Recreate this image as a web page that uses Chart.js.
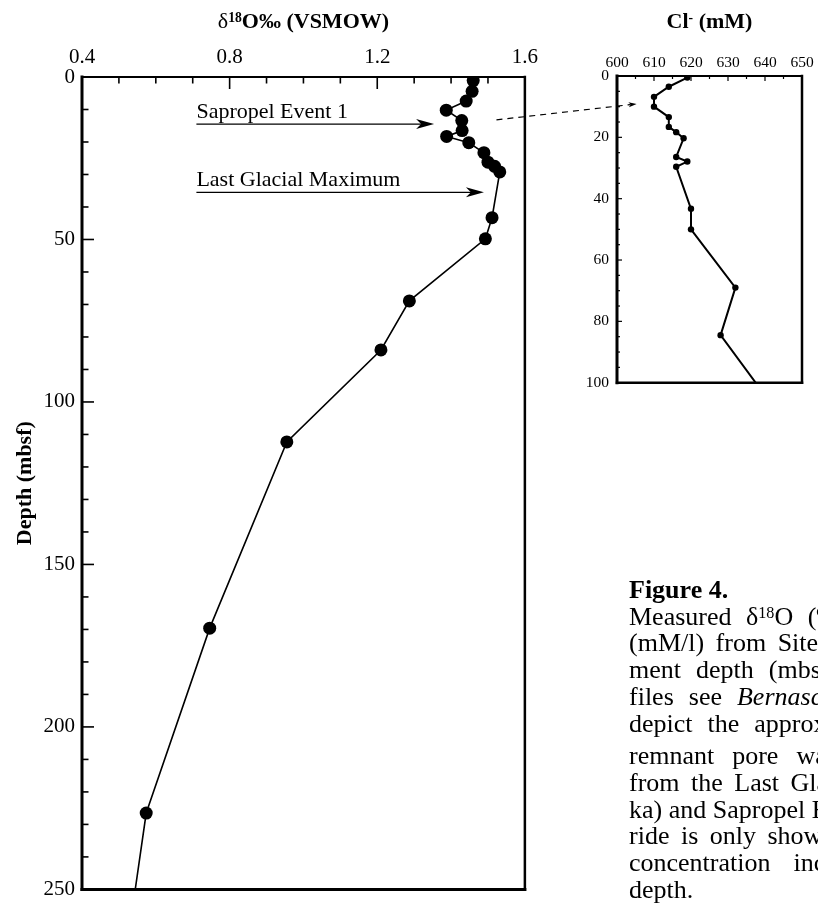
<!DOCTYPE html>
<html>
<head>
<meta charset="utf-8">
<script src="https://cdn.jsdelivr.net/npm/chart.js@4"></script>
<style>
  html, body { margin: 0; padding: 0; background: #fff; }
  body { width: 818px; height: 909px; position: relative; overflow: hidden;
         font-family: "Liberation Serif", "Times New Roman", serif; color: #000; }
  #o18Wrap { position: absolute; left: 0; top: 0; width: 545px; height: 909px; }
  #clWrap { position: absolute; left: 560px; top: 0; width: 258px; height: 400px; }
  #overlay { position: absolute; left: 0; top: 0; pointer-events: none; }
  .axTitle { position: absolute; top: 8px; font-weight: bold; font-size: 22px;
             white-space: nowrap; transform: translateX(-50%); }
  .axTitle sup { font-size: 0.62em; vertical-align: 0.42em; line-height: 0; }
  .axTitle .thin { font-weight: normal; }
  #caption { position: absolute; left: 629px; top: 577px; font-size: 26px;
             line-height: 26.7px; white-space: nowrap; }
  #caption sup { font-size: 0.62em; vertical-align: 0.45em; line-height: 0; }
  #caption .fig { font-weight: bold; }
  #caption .gap { margin-top: 6px; }
</style>
</head>
<body>
<div id="o18Wrap"><canvas id="o18Chart"></canvas></div>
<div id="clWrap"><canvas id="clChart"></canvas></div>
<canvas id="overlay" width="818" height="909"></canvas>

<div class="axTitle" id="o18Title"><span class="thin">δ</span><sup>18</sup>O‰ (VSMOW)</div>
<div class="axTitle" id="clTitle">Cl<sup>-</sup> (mM)</div>

<div id="caption">
  <div class="fig">Figure 4.</div>
  <div style="word-spacing:8px">Measured δ<sup>18</sup>O (‰ VSMOW) and chloride</div>
  <div style="word-spacing:5px">(mM/l) from Site 967 versus sedi-</div>
  <div style="word-spacing:8.5px">ment depth (mbsf). For chloride pro-</div>
  <div style="word-spacing:8.5px">files see <i>Bernasconi</i> [2002]. Arrows</div>
  <div style="word-spacing:8.5px">depict the approximate depth of the</div>
  <div class="gap" style="word-spacing:11.5px">remnant pore water signals</div>
  <div style="word-spacing:5px">from the Last Glacial Maximum (~20</div>
  <div>ka) and Sapropel Event 1 (~8 ka). Chlo-</div>
  <div style="word-spacing:5px">ride is only shown to 100 m, as the</div>
  <div style="word-spacing:16.5px">concentration increases with</div>
  <div>depth.</div>
</div>

<script>
// δ18O of pore water vs. depth (mbsf); last sample lies below the plotted range
const o18Depth = [1.1, 4.4, 7.4, 10.2, 13.4, 16.5, 18.3, 20.2, 23.3, 26.2, 27.5, 29.2,
                  43.3, 49.8, 68.9, 84.0, 112.3, 169.6, 226.5, 285];
const o18Value = [1.460, 1.457, 1.441, 1.387, 1.429, 1.430, 1.388, 1.448, 1.489, 1.500, 1.518, 1.532,
                  1.511, 1.493, 1.287, 1.210, 0.955, 0.746, 0.574, 0.500];

// chloride (mM) vs. depth; shown only to 100 m
const clDepth = [0.5, 3.5, 6.8, 10.0, 13.4, 16.6, 18.3, 20.3, 26.4, 27.9, 29.6,
                 43.3, 50.0, 69.0, 84.5, 112.3];
const clValue = [619, 614, 610, 610, 614, 614, 616, 618, 616, 619, 616,
                 620, 620, 632, 628, 645];

// labelled arrows on the δ18O profile
const eventLabels = ['Sapropel Event 1', 'Last Glacial Maximum'];
const eventDepth = [14.5, 35.5];
const eventFrom = [0.71, 0.71];
const eventTo = [1.354, 1.489];

const serif = '"Liberation Serif", "Times New Roman", serif';

// box around the plot with ticks pointing inward from the top and left edges
const frameTicks = {
  id: 'frameTicks',
  afterDraw(chart, args, o) {
    const { ctx, chartArea: a, scales: { x, y } } = chart;
    const line = (w, x1, y1, x2, y2) => {
      ctx.lineWidth = w;
      ctx.beginPath(); ctx.moveTo(x1, y1); ctx.lineTo(x2, y2); ctx.stroke();
    };
    const isMajor = (v, step) => Math.abs(v / step - Math.round(v / step)) < 1e-6;
    ctx.save();
    ctx.strokeStyle = '#000';
    ctx.lineCap = 'butt';
    const nx = Math.round((x.max - x.min) / o.xMinor);
    for (let i = 1; i < nx; i++) {
      const v = x.min + i * o.xMinor;
      const px = x.getPixelForValue(v);
      line(o.tickWidth, px, a.top, px, a.top + (isMajor(v, o.xMajor) ? o.major : o.minor));
    }
    const ny = Math.round((y.max - y.min) / o.yMinor);
    for (let i = 1; i < ny; i++) {
      const v = y.min + i * o.yMinor;
      const py = y.getPixelForValue(v);
      line(o.tickWidth, a.left, py, a.left + (isMajor(v, o.yMajor) ? o.major : o.minor), py);
    }
    ctx.lineCap = 'square';
    line(o.edges[0], a.left, a.top, a.right, a.top);
    line(o.edges[1], a.right, a.top, a.right, a.bottom);
    line(o.edges[2], a.left, a.bottom, a.right, a.bottom);
    line(o.edges[3], a.left, a.top, a.left, a.bottom);
    ctx.restore();
  }
};

function arrowHead(ctx, x, y, angle, len, half, notch) {
  ctx.save();
  ctx.translate(x, y);
  ctx.rotate(angle);
  ctx.beginPath();
  ctx.moveTo(0, 0);
  ctx.lineTo(-len, -half);
  ctx.lineTo(-len + notch, 0);
  ctx.lineTo(-len, half);
  ctx.closePath();
  ctx.fill();
  ctx.restore();
}

const eventArrows = {
  id: 'eventArrows',
  afterDatasetsDraw(chart) {
    const { ctx, scales: { x, y } } = chart;
    ctx.save();
    ctx.fillStyle = '#000';
    ctx.strokeStyle = '#000';
    ctx.font = `22px ${serif}`;
    ctx.textBaseline = 'alphabetic';
    eventLabels.forEach((label, i) => {
      const py = y.getPixelForValue(eventDepth[i]);
      const x0 = x.getPixelForValue(eventFrom[i]);
      const x1 = x.getPixelForValue(eventTo[i]);
      ctx.fillText(label, x0, py - 6);
      ctx.lineWidth = 1.3;
      ctx.beginPath(); ctx.moveTo(x0, py); ctx.lineTo(x1 - 10, py); ctx.stroke();
      arrowHead(ctx, x1, py, 0, 18, 5, 5);
    });
    ctx.restore();
  }
};

function axisFont(size) {
  return { family: serif, size: size };
}

const o18Chart = new Chart(document.getElementById('o18Chart'), {
  type: 'line',
  data: {
    datasets: [{
      data: o18Depth.map((d, i) => ({ x: o18Value[i], y: d })),
      borderColor: '#000',
      borderWidth: 1.6,
      pointRadius: 6.5,
      pointBackgroundColor: '#000',
      pointBorderWidth: 0,
      tension: 0
    }]
  },
  options: {
    responsive: true,
    maintainAspectRatio: false,
    animation: false,
    layout: { padding: { left: 0, right: 17, top: 0, bottom: 2 } },
    plugins: {
      legend: { display: false },
      tooltip: { enabled: false },
      frameTicks: { xMinor: 0.1, xMajor: 0.4, yMinor: 10, yMajor: 50, major: 12, minor: 6.5,
                    tickWidth: 1.6, edges: [2, 2.5, 3, 3] }
    },
    scales: {
      x: {
        type: 'linear', position: 'top', min: 0.4, max: 1.6,
        grid: { display: false, drawTicks: false }, border: { display: false },
        ticks: { stepSize: 0.4, color: '#000', font: axisFont(21), padding: 7,
                 callback: v => v.toFixed(1) },
        afterFit: s => { s.height = 77; }
      },
      y: {
        type: 'linear', reverse: true, min: 0, max: 250,
        grid: { display: false, drawTicks: false }, border: { display: false },
        ticks: { stepSize: 50, color: '#000', font: axisFont(21), padding: 7 },
        title: { display: true, text: 'Depth (mbsf)', color: '#000',
                 font: { family: serif, size: 22, weight: 'bold' }, padding: { top: 12, bottom: 0 } },
        afterFit: s => { s.width = 82; }
      }
    }
  },
  plugins: [frameTicks, eventArrows]
});

const clChart = new Chart(document.getElementById('clChart'), {
  type: 'line',
  data: {
    datasets: [{
      data: clDepth.map((d, i) => ({ x: clValue[i], y: d })),
      borderColor: '#000',
      borderWidth: 2,
      pointRadius: 3.2,
      pointBackgroundColor: '#000',
      pointBorderWidth: 0,
      tension: 0
    }]
  },
  options: {
    responsive: true,
    maintainAspectRatio: false,
    animation: false,
    layout: { padding: { left: 0, right: 16, top: 0, bottom: 4 } },
    plugins: {
      legend: { display: false },
      tooltip: { enabled: false },
      frameTicks: { xMinor: 5, xMajor: 10, yMinor: 5, yMajor: 20, major: 5, minor: 3,
                    tickWidth: 1.2, edges: [2, 2.5, 2.5, 3] }
    },
    scales: {
      x: {
        type: 'linear', position: 'top', min: 600, max: 650,
        grid: { display: false, drawTicks: false }, border: { display: false },
        ticks: { stepSize: 10, color: '#000', font: axisFont(15.5), padding: 4 },
        afterFit: s => { s.height = 76; }
      },
      y: {
        type: 'linear', reverse: true, min: 0, max: 100,
        grid: { display: false, drawTicks: false }, border: { display: false },
        ticks: { stepSize: 20, color: '#000', font: axisFont(15.5), padding: 8 },
        afterFit: s => { s.width = 57; }
      }
    }
  },
  plugins: [frameTicks]
});

// centre the HTML axis titles over each plot
function centreTitle(id, chart, wrapLeft) {
  const a = chart.chartArea;
  document.getElementById(id).style.left = (wrapLeft + (a.left + a.right) / 2) + 'px';
}
centreTitle('o18Title', o18Chart, 0);
centreTitle('clTitle', clChart, 560);

// dashed pointer from the sapropel samples to the chloride minimum
(function drawLink() {
  const ctx = document.getElementById('overlay').getContext('2d');
  const x0 = o18Chart.scales.x.getPixelForValue(1.523);
  const y0 = o18Chart.scales.y.getPixelForValue(13.2);
  const x1 = 560 + clChart.scales.x.getPixelForValue(605.3);
  const y1 = clChart.scales.y.getPixelForValue(9.1);
  const ang = Math.atan2(y1 - y0, x1 - x0);
  ctx.strokeStyle = '#000';
  ctx.fillStyle = '#000';
  ctx.lineWidth = 1.2;
  ctx.setLineDash([6, 5]);
  ctx.beginPath();
  ctx.moveTo(x0, y0);
  ctx.lineTo(x1 - 6 * Math.cos(ang), y1 - 6 * Math.sin(ang));
  ctx.stroke();
  ctx.setLineDash([]);
  arrowHead(ctx, x1, y1, ang, 8, 2.5, 2);
})();
</script>
</body>
</html>
